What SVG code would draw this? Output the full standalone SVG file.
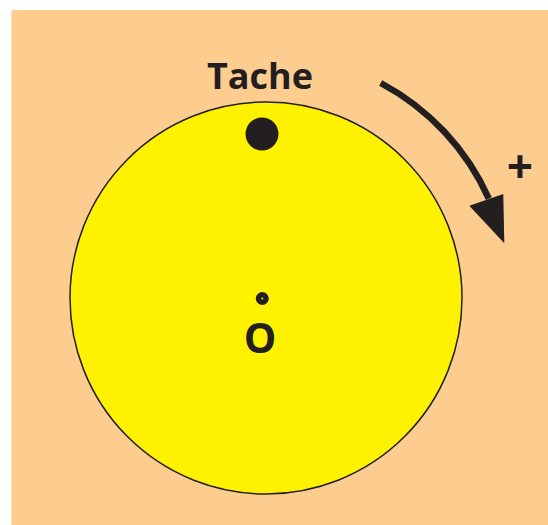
<svg xmlns="http://www.w3.org/2000/svg" width="548" height="525" viewBox="0 0 548 525">
<style>
.lbl{font-family:"Open Sans","Liberation Sans",sans-serif;font-weight:700;fill:#231f20}
.dark{fill:#231f20}
</style>
<rect x="11.5" y="10" width="536.5" height="515" fill="#fdcc8f"/>
<g id="disque">
<circle cx="266" cy="298" r="196" fill="#fff200" stroke="#231f20" stroke-width="1.5"/>
</g>
<g id="tache">
<circle class="dark" cx="262" cy="134" r="16.5"/>
<text class="lbl" x="260" y="89" font-size="36" text-anchor="middle">Tache</text>
</g>
<g id="centre">
<circle class="dark" cx="262.3" cy="298.5" r="6.5"/>
<circle cx="262.3" cy="298.5" r="1" fill="#fff200"/>
<text class="lbl" x="260" y="353" font-size="41" text-anchor="middle">O</text>
</g>
<g id="connecteurs">
<path d="M380.7,83 A244,244 0 0 1 488.8,198.7" fill="none" stroke="#231f20" stroke-width="6.5"/>
<polygon class="dark" points="469.3,205.7 503.3,194 504.3,243.3"/>
</g>
<g id="sens">
<text class="lbl" x="520" y="183" font-size="46" font-weight="800" text-anchor="middle">+</text>
</g>
</svg>
